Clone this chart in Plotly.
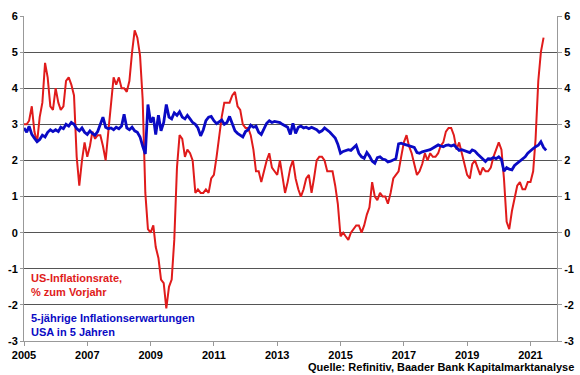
import pandas as pd
import plotly.graph_objects as go

# US CPI inflation, % yoy, monthly Jan 2005 - Jun 2021
us_inflation = [
    3.0, 3.0, 3.1, 3.5, 2.8, 2.5, 3.2, 3.6, 4.7, 4.3, 3.5, 3.4,   # 2005
    4.0, 3.6, 3.4, 3.5, 4.2, 4.3, 4.1, 3.8, 2.1, 1.3, 2.0, 2.5,   # 2006
    2.1, 2.4, 2.8, 2.6, 2.7, 2.7, 2.4, 2.0, 2.8, 3.5, 4.3, 4.1,   # 2007
    4.3, 4.0, 4.0, 3.9, 4.2, 5.0, 5.6, 5.4, 4.9, 3.7, 1.1, 0.1,   # 2008
    0.0, 0.2, -0.4, -0.7, -1.3, -1.4, -2.1, -1.5, -1.3, -0.2, 1.8, 2.7,  # 2009
    2.6, 2.1, 2.3, 2.2, 2.0, 1.1, 1.2, 1.1, 1.1, 1.2, 1.1, 1.5,   # 2010
    1.6, 2.1, 2.7, 3.2, 3.6, 3.6, 3.6, 3.8, 3.9, 3.5, 3.4, 3.0,   # 2011
    2.9, 2.9, 2.7, 2.3, 1.7, 1.7, 1.4, 1.7, 2.0, 2.2, 1.8, 1.7,   # 2012
    1.6, 2.0, 1.5, 1.1, 1.4, 1.8, 2.0, 1.5, 1.2, 1.0, 1.2, 1.5,   # 2013
    1.6, 1.1, 1.5, 2.0, 2.1, 2.1, 2.0, 1.7, 1.7, 1.7, 1.3, 0.8,   # 2014
    -0.1, 0.0, -0.1, -0.2, 0.0, 0.1, 0.2, 0.2, 0.0, 0.2, 0.5, 0.7,  # 2015
    1.4, 1.0, 0.9, 1.1, 1.0, 1.0, 0.8, 1.1, 1.5, 1.6, 1.7, 2.1,   # 2016
    2.5, 2.7, 2.4, 2.2, 1.9, 1.6, 1.7, 1.9, 2.2, 2.0, 2.2, 2.1,   # 2017
    2.1, 2.2, 2.4, 2.5, 2.8, 2.9, 2.9, 2.7, 2.3, 2.5, 2.2, 1.9,   # 2018
    1.6, 1.5, 1.9, 2.0, 1.8, 1.6, 1.8, 1.7, 1.7, 1.8, 2.1, 2.3,   # 2019
    2.5, 2.3, 1.5, 0.3, 0.1, 0.6, 1.0, 1.3, 1.4, 1.2, 1.2, 1.4,   # 2020
    1.4, 1.7, 2.6, 4.2, 5.0, 5.4,                                 # 2021
]

# 5y inflation expectations in 5 years (5y5y), monthly Jan 2005 - Jul 2021
expectations = [
    2.90, 2.78, 2.95, 2.72, 2.62, 2.52, 2.58, 2.70, 2.65, 2.78, 2.85, 2.80,  # 2005
    2.85, 2.80, 2.92, 2.88, 3.00, 2.95, 3.05, 3.00, 2.88, 2.82, 2.90, 2.78,  # 2006
    2.72, 2.82, 2.75, 2.70, 2.80, 3.02, 3.20, 2.92, 2.88, 2.90, 2.85, 2.92,  # 2007
    2.88, 2.95, 3.28, 2.90, 2.85, 2.92, 2.82, 2.78, 2.65, 2.40, 2.18, 3.55,  # 2008
    3.05, 3.20, 2.72, 3.25, 2.82, 3.05, 3.55, 3.20, 3.15, 3.32, 3.25, 3.35,  # 2009
    3.20, 3.15, 3.25, 3.15, 3.05, 3.00, 2.90, 2.68, 2.85, 3.10, 3.20, 3.22,  # 2010
    3.10, 3.02, 3.08, 3.12, 3.00, 3.05, 3.22, 3.00, 2.82, 2.75, 2.70, 2.65,  # 2011
    2.80, 2.85, 2.98, 2.92, 2.95, 2.78, 2.72, 2.88, 3.03, 3.10, 3.05, 3.08,  # 2012
    3.07, 3.05, 3.00, 2.95, 2.92, 2.72, 3.03, 2.75, 2.92, 2.95, 2.90, 2.92,  # 2013
    2.88, 2.92, 2.88, 2.85, 2.78, 2.82, 2.90, 2.85, 2.78, 2.70, 2.62, 2.45,  # 2014
    2.20, 2.25, 2.28, 2.30, 2.28, 2.36, 2.42, 2.20, 2.10, 2.06, 2.22, 2.12,  # 2015
    1.98, 1.92, 2.08, 2.10, 2.04, 2.02, 1.96, 1.98, 2.02, 2.05, 2.46, 2.48,  # 2016
    2.45, 2.43, 2.42, 2.38, 2.36, 2.22, 2.20, 2.24, 2.25, 2.28, 2.30, 2.34,  # 2017
    2.38, 2.43, 2.40, 2.38, 2.42, 2.43, 2.40, 2.43, 2.35, 2.28, 2.30, 2.27,  # 2018
    2.24, 2.22, 2.29, 2.26, 2.18, 2.10, 2.02, 1.97, 2.05, 2.04, 2.08, 2.05,  # 2019
    2.10, 2.03, 1.70, 1.80, 1.76, 1.74, 1.86, 1.92, 1.97, 2.05, 2.10, 2.20,  # 2020
    2.28, 2.33, 2.38, 2.42, 2.52, 2.36, 2.28,                                # 2021
]

year_ticks = [2005, 2007, 2009, 2011, 2013, 2015, 2017, 2019, 2021]
y_ticks = [-3, -2, -1, 0, 1, 2, 3, 4, 5, 6]
y_ticktext = [str(v) for v in y_ticks]

dates_red = pd.date_range("2005-01-01", periods=len(us_inflation), freq="MS")
dates_blue = pd.date_range("2005-01-01", periods=len(expectations), freq="MS")

RED = "#e01b1b"
BLUE = "#0a0ac4"
FONT = "Liberation Sans, Arial, sans-serif"

fig = go.Figure()
fig.add_trace(go.Scatter(x=dates_red, y=us_inflation, mode="lines",
                         line=dict(color=RED, width=2), yaxis="y"))
fig.add_trace(go.Scatter(x=dates_blue, y=expectations, mode="lines",
                         line=dict(color=BLUE, width=2.8), yaxis="y2"))

tickfont = dict(family=FONT, size=11, color="#000000", weight="bold")

fig.update_layout(
    width=580, height=375,
    margin=dict(l=24, r=23, t=16, b=34),
    paper_bgcolor="white", plot_bgcolor="white",
    showlegend=False,
    xaxis=dict(
        type="date", automargin=False,
        range=["2005-01-01", "2021-11-03"],
        tickvals=[f"{y}-01-01" for y in year_ticks],
        ticktext=[str(y) for y in year_ticks],
        ticks="outside", ticklen=4, tickcolor="#999999",
        showgrid=False, zeroline=False,
        showline=True, linecolor="#999999", linewidth=1,
        tickfont=tickfont,
    ),
    yaxis=dict(
        range=[-3, 6], tickvals=y_ticks, ticktext=y_ticktext,
        automargin=False,
        ticks="outside", ticklen=3, tickcolor="#999999",
        showgrid=True, gridcolor="#555555", gridwidth=1,
        zeroline=False,
        showline=True, linecolor="#999999", linewidth=1,
        tickfont=tickfont,
    ),
    yaxis2=dict(
        range=[-3, 6], tickvals=y_ticks, ticktext=y_ticktext,
        automargin=False,
        overlaying="y", side="right",
        ticks="outside", ticklen=4, tickcolor="#999999",
        showgrid=False, zeroline=False,
        showline=True, linecolor="#999999", linewidth=1,
        tickfont=tickfont,
    ),
    annotations=[
        dict(text="US-Inflationsrate,<br>% zum Vorjahr",
             xref="paper", yref="y", x=0.009, y=-1.46,
             xanchor="left", yanchor="middle", align="left", showarrow=False,
             font=dict(family=FONT, size=11, color=RED, weight="bold")),
        dict(text="5-jährige Inflationserwartungen<br>USA in 5 Jahren",
             xref="paper", yref="y", x=0.009, y=-2.56,
             xanchor="left", yanchor="middle", align="left", showarrow=False,
             font=dict(family=FONT, size=11, color=BLUE, weight="bold")),
        dict(text="Quelle: Refinitiv, Baader Bank Kapitalmarktanalyse",
             xref="paper", yref="paper", x=1.036, y=-0.08,
             xanchor="right", yanchor="middle", showarrow=False,
             font=dict(family=FONT, size=11, color="#000000", weight="bold")),
    ],
)

fig.write_html("out.html", config={"displayModeBar": False},
               post_script="document.body.style.margin='0';")
